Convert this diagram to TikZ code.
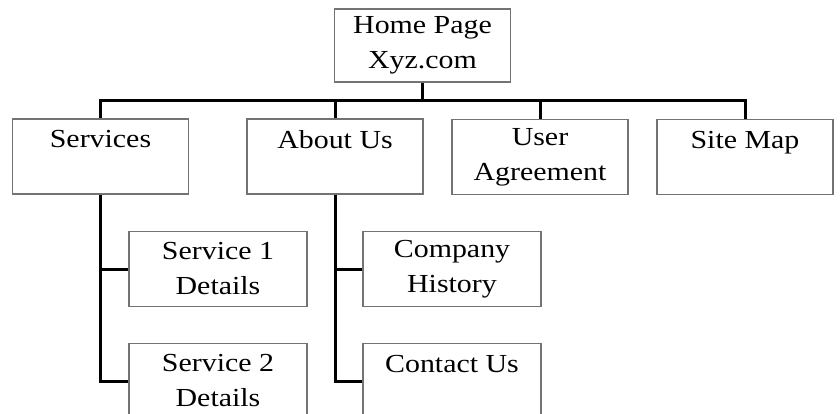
\documentclass[tikz,border=0pt]{standalone}
\usepackage{fontspec}
\setmainfont{Liberation Serif}[FakeStretch=1.15]
\usetikzlibrary{positioning}

\begin{document}
\begin{tikzpicture}[x=1pt,y=-1pt,
    page/.style={draw=black!55, line width=1.5pt, minimum width=176pt, minimum height=75pt,
        align=center, inner sep=0pt, font=\fontsize{26}{35}\selectfont},
    link/.style={line width=3pt, black}]
    \useasboundingbox (0,0) rectangle (840,414);
    \clip (0,0) rectangle (840,414);

    % Page d'accueil et premier niveau
    \node[page, minimum height=73pt] (home) at (422.5,45.5) {Home Page\\Xyz.com};
    \node[page] (services) at (100.5,156.5) {Services\\~};
    \node[page] (about) at (335,156.5) {About Us\\~};
    \node[page] (agree) at (540,157) {User\\Agreement};
    \node[page] (sitemap) at (745,157) {Site Map\\~};

    % Second niveau
    \node[page, minimum width=178pt] (svcone) at (218,269) {Service 1\\Details};
    \node[page, minimum width=178pt] (svctwo) at (218,381) {Service 2\\Details};
    \node[page, minimum width=178pt] (history) at (452,269) {Company\\History};
    \node[page, minimum width=178pt] (contact) at (452,381) {Contact Us\\~};

    % Liaisons
    \coordinate (bus) at (0,101);
    \draw[link] (home.south) -- (home.south |- bus);
    \draw[link] (services.north) |- (sitemap.north |- bus) -- (sitemap.north);
    \draw[link] (about.north) -- (about.north |- bus);
    \draw[link] (agree.north) -- (agree.north |- bus);

    \draw[link] (services.south) |- (svctwo.west);
    \draw[link] (services.south |- svcone.west) -- (svcone.west);
    \draw[link] (about.south) |- (contact.west);
    \draw[link] (about.south |- history.west) -- (history.west);
\end{tikzpicture}
\end{document}
